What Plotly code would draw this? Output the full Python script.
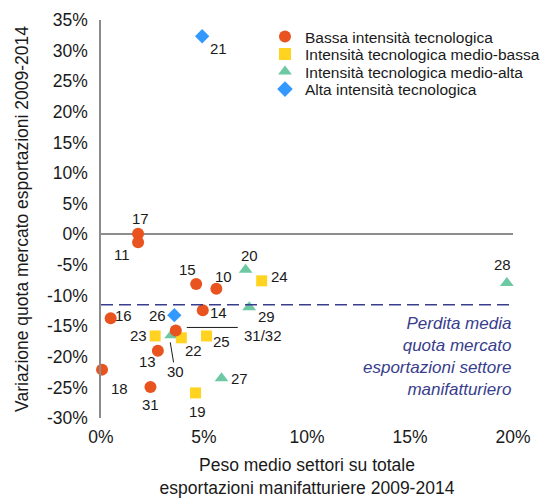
import plotly.graph_objects as go

# Valori in % (peso medio settore, variazione quota mercato)
bassa_lbl = ["17", "11", "15", "10", "14", "16", "31/32", "13", "18", "31"]
bassa_x = [1.8, 1.8, 4.62, 5.6, 4.94, 0.47, 3.63, 2.76, 0.05, 2.4]
bassa_y = [0.1, -1.3, -8.1, -8.9, -12.4, -13.7, -15.7, -19.0, -22.1, -24.95]

mbassa_lbl = ["24", "23", "22", "25", "19"]
mbassa_x = [7.8, 2.63, 3.9, 5.12, 4.59]
mbassa_y = [-7.6, -16.6, -16.9, -16.6, -25.9]

malta_lbl = ["20", "29", "30", "27", "28"]
malta_x = [7.02, 7.19, 3.41, 5.85, 19.7]
malta_y = [-5.8, -11.9, -16.5, -23.5, -7.95]

alta_lbl = ["21", "26"]
alta_x = [4.91, 3.56]
alta_y = [32.35, -13.2]

perdita_media = -11.5

y_ticks = [35, 30, 25, 20, 15, 10, 5, 0, -5, -10, -15, -20, -25, -30]
y_tick_text = ["35%", "30%", "25%", "20%", "15%", "10%", "5%", "0%",
               "-5%", "-10%", "-15%", "-20%", "-25%", "-30%"]
x_ticks = [0, 5, 10, 15, 20]
x_tick_text = ["0%", "5%", "10%", "15%", "20%"]

# label offsets (px) for each point
offsets = {
    "21": (16, -12), "17": (2, 15), "11": (-16, -12), "15": (-9, 14),
    "10": (7, 12), "20": (4, 14), "24": (18, 4), "28": (-4, 18),
    "16": (13, 3), "26": (-17, 0), "14": (16, -2), "29": (17, -9),
    "23": (-17, 0), "22": (12, -13), "25": (15, -6), "31/32": (87, -5),
    "13": (-10, -11), "30": (4, -36), "18": (17, -19), "31": (0, -17),
    "27": (18, 0), "19": (2, -19),
}

FONT = "Arial, Liberation Sans, sans-serif"
fig = go.Figure()

# drawing order: triangles, diamonds, squares, circles on top
series = [
    ("Intensità tecnologica medio-alta", malta_x, malta_y, "triangle-up", "#6DC8A4", 12, "legend3"),
    ("Alta intensità tecnologica", alta_x, alta_y, "diamond", "#3399FF", 11, "legend4"),
    ("Intensità tecnologica medio-bassa", mbassa_x, mbassa_y, "square", "#FFD320", 11, "legend2"),
    ("Bassa intensità tecnologica", bassa_x, bassa_y, "circle", "#E8531F", 12, "legend"),
]
for name, xs, ys, sym, col, sz, leg in series:
    fig.add_trace(go.Scatter(
        x=xs, y=ys, mode="markers", name=name, legend=leg, showlegend=True,
        marker=dict(symbol=sym, color=col, size=sz, line=dict(width=0)),
        cliponaxis=False,
    ))

for lbls, xs, ys in [(bassa_lbl, bassa_x, bassa_y), (mbassa_lbl, mbassa_x, mbassa_y),
                     (malta_lbl, malta_x, malta_y), (alta_lbl, alta_x, alta_y)]:
    for l, x, y in zip(lbls, xs, ys):
        dx, dy = offsets[l]
        fig.add_annotation(x=x, y=y, text=l, showarrow=False, xshift=dx, yshift=dy,
                           font=dict(size=15, color="#1a1a1a", family=FONT))

# leader lines
i = bassa_lbl.index("31/32")
fig.add_shape(type="line", xref="x", yref="y", xsizemode="pixel", ysizemode="pixel",
              xanchor=bassa_x[i], yanchor=bassa_y[i], x0=11, x1=62, y0=3, y1=3,
              line=dict(color="#1a1a1a", width=1))
j = malta_lbl.index("30")
fig.add_shape(type="line", xref="x", yref="y", xsizemode="pixel", ysizemode="pixel",
              xanchor=malta_x[j], yanchor=malta_y[j], x0=-1, x1=2.3, y0=-7, y1=-27,
              line=dict(color="#1a1a1a", width=1))

# average line
fig.add_shape(type="line", xref="x", yref="y", x0=0, x1=20, y0=perdita_media, y1=perdita_media,
              line=dict(color="#383D8C", width=1.6, dash="12px,6px"))
fig.add_annotation(x=20, y=perdita_media, xanchor="right", yanchor="top", yshift=-7,
                   text="Perdita media<br>quota mercato<br>esportazioni settore<br>manifatturiero",
                   showarrow=False, align="right",
                   font=dict(size=17, color="#383D8C", family=FONT, style="italic"))

# y axis title
fig.add_annotation(xref="paper", yref="paper", x=-0.192, y=0.5, xanchor="center", yanchor="middle",
                   text="Variazione quota mercato esportazioni 2009-2014", textangle=-90,
                   showarrow=False, font=dict(size=17.5, color="#1a1a1a", family=FONT))

leg_style = dict(x=0.398, xanchor="left", yanchor="middle", bgcolor="rgba(0,0,0,0)",
                 font=dict(size=15.5), itemsizing="constant")
fig.update_layout(
    width=540, height=490, autosize=False, showlegend=True,
    margin=dict(l=93, r=35, t=12, b=80, autoexpand=False),
    plot_bgcolor="white", paper_bgcolor="white",
    font=dict(family=FONT, color="#1a1a1a"),
    legend=dict(y=(398 - 17) / 398, **leg_style),
    legend2=dict(y=(398 - 34.5) / 398, **leg_style),
    legend3=dict(y=(398 - 52) / 398, **leg_style),
    legend4=dict(y=(398 - 69.5) / 398, **leg_style),
    xaxis=dict(range=[0, 20], tickvals=x_ticks, ticktext=x_tick_text, automargin=False,
               showgrid=False, zeroline=False, showline=False,
               ticks="outside", ticklen=3, tickcolor="rgba(0,0,0,0)",
               tickfont=dict(size=17.5),
               title=dict(text="Peso medio settori su totale<br>esportazioni manifatturiere 2009-2014",
                          font=dict(size=17.5), standoff=23)),
    yaxis=dict(range=[-30, 35], tickvals=y_ticks, ticktext=y_tick_text, automargin=False,
               showgrid=False, zeroline=True, zerolinecolor="#8c8c8c", zerolinewidth=1.5,
               showline=True, linecolor="#8c8c8c", linewidth=1.5,
               ticks="outside", ticklen=8, tickcolor="rgba(0,0,0,0)",
               tickfont=dict(size=17.5)),
)

fig.write_html("out.html")
